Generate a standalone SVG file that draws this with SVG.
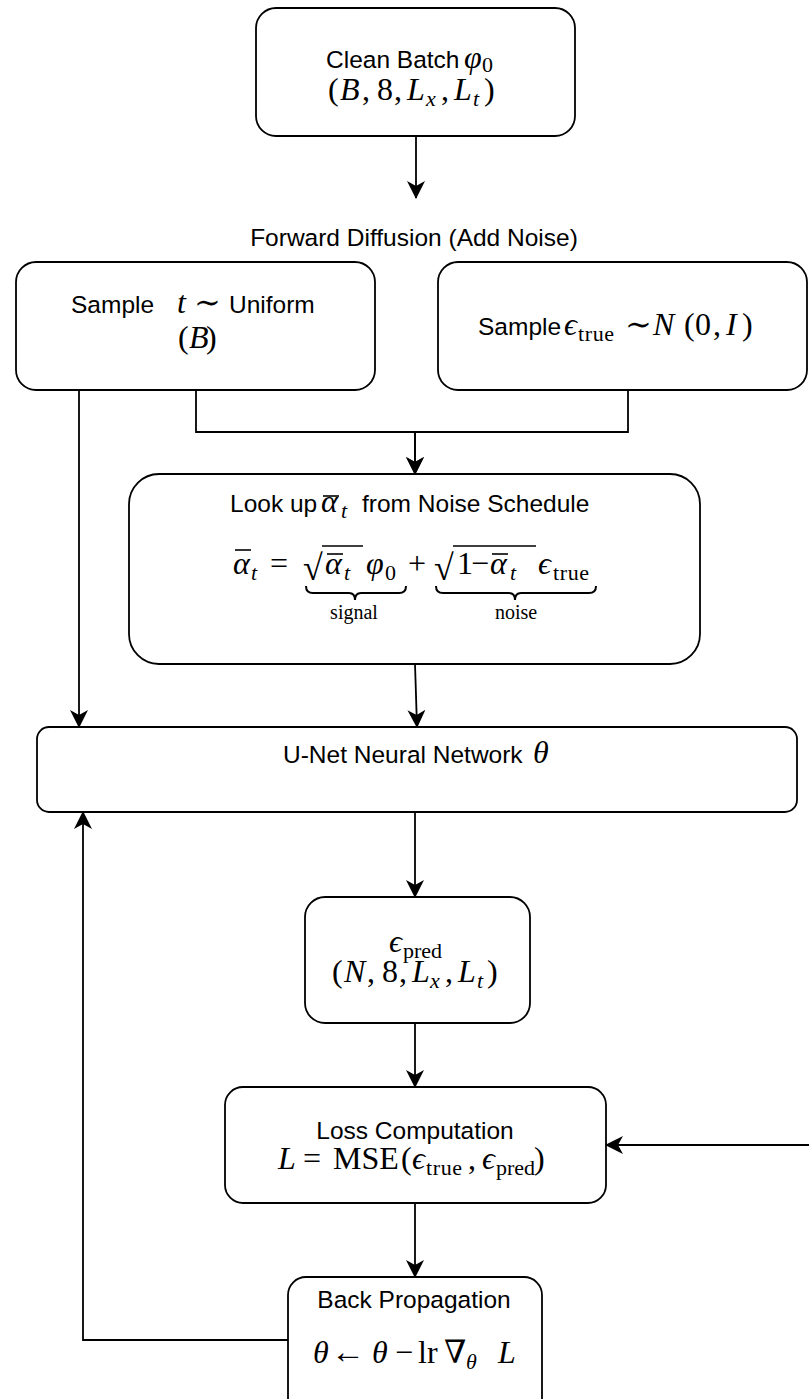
<svg xmlns="http://www.w3.org/2000/svg" width="809" height="1399" viewBox="0 0 809 1399">
<style>
.box{fill:#fff;stroke:#000;stroke-width:1.8}
.edge{fill:none;stroke:#000;stroke-width:1.8}
.bar{stroke:#000;stroke-width:1.6;fill:none}
.brace{stroke:#000;stroke-width:2;fill:none}
.sans{font-family:"Liberation Sans",Arial,Helvetica,sans-serif;font-size:24.5px;fill:#000}
.math{font-family:"Liberation Serif","DejaVu Serif",serif;font-size:32px;fill:#000;font-style:normal}
.mi{font-style:italic}
.sub{font-size:22px}
.lbl{font-family:"Liberation Serif","DejaVu Serif",serif;font-size:20px;fill:#000}
</style>
<defs>
<marker id="arr" viewBox="0 0 18 18" refX="17" refY="9" markerWidth="18" markerHeight="18" markerUnits="userSpaceOnUse" orient="auto">
<path d="M0,0 L18,9 L0,18 L5,9 Z" fill="#000"/>
</marker>
</defs>
<rect width="809" height="1399" fill="#fff"/>

<g id="edges">
<path id="e-clean-fd" class="edge" d="M416,136 V198" marker-end="url(#arr)"/>
<path id="e-t-lookup" class="edge" d="M196,390 V432 H415 V474" marker-end="url(#arr)"/>
<path id="e-eps-lookup" class="edge" d="M628,390 V432 H415 V474" marker-end="url(#arr)"/>
<path id="e-t-unet" class="edge" d="M79,390 V727" marker-end="url(#arr)"/>
<path id="e-lookup-unet" class="edge" d="M415,664 L417,727" marker-end="url(#arr)"/>
<path id="e-unet-pred" class="edge" d="M415,812 V897" marker-end="url(#arr)"/>
<path id="e-pred-loss" class="edge" d="M415,1023 V1087" marker-end="url(#arr)"/>
<path id="e-loss-back" class="edge" d="M415,1203 V1277" marker-end="url(#arr)"/>
<path id="e-back-unet" class="edge" d="M288,1340 H83 V812" marker-end="url(#arr)"/>
<path id="e-right-loss" class="edge" d="M809,1145 H606" marker-end="url(#arr)"/>
</g>

<g id="clean-batch">
<rect class="box" x="256" y="8" width="319" height="128" rx="20"/>
<text class="sans" x="326" y="68">Clean Batch<tspan class="math mi" x="464">φ</tspan><tspan class="math sub" x="482" y="72">0</tspan></text>
<text class="math" y="100"><tspan x="328">(</tspan><tspan class="mi" x="340">B</tspan><tspan x="362">,</tspan><tspan x="377">8</tspan><tspan x="394">,</tspan><tspan class="mi" x="407">L</tspan><tspan class="mi sub" x="426" y="106">x</tspan><tspan x="441" y="100">,</tspan><tspan class="mi" x="454">L</tspan><tspan class="mi sub" x="473" y="106">t</tspan><tspan x="484" y="100">)</tspan></text>
</g>

<g id="forward-label">
<text class="sans" x="414" y="246" text-anchor="middle">Forward Diffusion (Add Noise)</text>
</g>

<g id="sample-t">
<rect class="box" x="16" y="262" width="359" height="128" rx="20"/>
<text class="sans" y="313"><tspan x="71">Sample</tspan><tspan class="math mi" x="177">t</tspan><tspan class="math" x="194" font-size="23">∼</tspan><tspan x="229">Uniform</tspan></text>
<text class="math" y="348"><tspan x="178">(</tspan><tspan class="mi" x="189">B</tspan><tspan x="206">)</tspan></text>
</g>

<g id="sample-eps">
<rect class="box" x="438" y="262" width="369" height="128" rx="20"/>
<text class="sans" y="335"><tspan x="478">Sample</tspan><tspan class="math mi" x="564">ϵ</tspan><tspan class="math sub" x="578" y="341" letter-spacing="0.6">true</tspan><tspan class="math" x="625" y="335" font-size="23">∼</tspan><tspan class="math mi" x="653">N</tspan><tspan class="math" x="684">(</tspan><tspan class="math" x="695">0</tspan><tspan class="math" x="713">,</tspan><tspan class="math mi" x="726">I</tspan><tspan class="math" x="742">)</tspan></text>
</g>

<g id="lookup">
<rect class="box" x="129" y="474" width="571" height="190" rx="30"/>
<text class="sans" y="512"><tspan x="230">Look up</tspan><tspan class="math mi" x="321">α</tspan><tspan class="math mi sub" x="341" y="518">t</tspan><tspan x="362" y="512">from Noise Schedule</tspan></text>
<line class="bar" x1="323" y1="496" x2="339" y2="496"/>
<text class="math" y="574"><tspan class="mi" x="233">α</tspan><tspan class="mi sub" x="251" y="580">t</tspan><tspan x="270" y="574">=</tspan><tspan x="303" font-size="36" y="580">√</tspan><tspan class="mi" x="325" y="574">α</tspan><tspan class="mi sub" x="344" y="580">t</tspan><tspan class="mi" x="366" y="574">φ</tspan><tspan class="sub" x="385" y="580">0</tspan><tspan x="408" y="574">+</tspan><tspan x="434" font-size="36" y="580">√</tspan><tspan x="457" y="574">1</tspan><tspan x="471">−</tspan><tspan class="mi" x="490">α</tspan><tspan class="mi sub" x="510" y="580">t</tspan><tspan class="mi" x="538" y="574">ϵ</tspan><tspan class="sub" x="553" y="580" letter-spacing="0.6">true</tspan></text>
<line class="bar" x1="235" y1="550" x2="251" y2="550"/>
<line class="bar" x1="322" y1="546" x2="363" y2="546"/>
<line class="bar" x1="327" y1="554" x2="343" y2="554"/>
<line class="bar" x1="453" y1="546" x2="536" y2="546"/>
<line class="bar" x1="492" y1="554" x2="508" y2="554"/>
<path class="brace" d="M306,586 q0,7 7,7 H349 q6,0 6,7 q0,-7 6,-7 H399 q7,0 7,-7"/>
<path class="brace" d="M436,586 q0,7 7,7 H509 q6,0 6,7 q0,-7 6,-7 H589 q7,0 7,-7"/>
<text class="lbl" x="354" y="619" text-anchor="middle">signal</text>
<text class="lbl" x="516" y="619" text-anchor="middle">noise</text>
</g>

<g id="unet">
<rect class="box" x="37" y="727" width="760" height="85" rx="12"/>
<text class="sans" x="283" y="763">U-Net Neural Network<tspan class="math mi" x="533">θ</tspan></text>
</g>

<g id="eps-pred">
<rect class="box" x="305" y="897" width="225" height="126" rx="20"/>
<text class="math" y="952"><tspan class="mi" x="389">ϵ</tspan><tspan class="sub" x="403" y="958">pred</tspan></text>
<text class="math" y="982"><tspan x="332">(</tspan><tspan class="mi" x="344">N</tspan><tspan x="367">,</tspan><tspan x="382">8</tspan><tspan x="399">,</tspan><tspan class="mi" x="412">L</tspan><tspan class="mi sub" x="430" y="988">x</tspan><tspan x="445" y="982">,</tspan><tspan class="mi" x="458">L</tspan><tspan class="mi sub" x="477" y="988">t</tspan><tspan x="487" y="982">)</tspan></text>
</g>

<g id="loss">
<rect class="box" x="225" y="1087" width="381" height="116" rx="18"/>
<text class="sans" x="415" y="1139" text-anchor="middle">Loss Computation</text>
<text class="math" y="1169"><tspan class="mi" x="278">L</tspan><tspan x="303">=</tspan><tspan x="333">MSE</tspan><tspan x="401">(</tspan><tspan class="mi" x="412">ϵ</tspan><tspan class="sub" x="426" y="1175" letter-spacing="0.6">true</tspan><tspan x="468" y="1169">,</tspan><tspan class="mi" x="482">ϵ</tspan><tspan class="sub" x="496" y="1175">pred</tspan><tspan x="534" y="1169">)</tspan></text>
</g>

<g id="backprop">
<rect class="box" x="288" y="1277" width="254" height="140" rx="18"/>
<text class="sans" x="414" y="1308" text-anchor="middle">Back Propagation</text>
<text class="math" y="1363"><tspan class="mi" x="313">θ</tspan><tspan x="331" font-size="34">←</tspan><tspan class="mi" x="372">θ</tspan><tspan x="395">−</tspan><tspan x="418">lr</tspan><tspan x="444">∇</tspan><tspan class="mi sub" x="466" y="1369">θ</tspan><tspan class="mi" x="498" y="1363">L</tspan></text>
</g>
</svg>
